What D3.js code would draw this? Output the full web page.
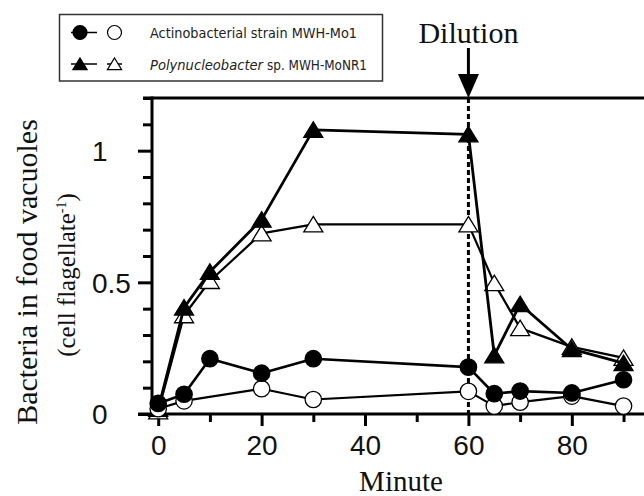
<!DOCTYPE html>
<html>
<head>
<meta charset="utf-8">
<script src="https://cdn.jsdelivr.net/npm/d3@7"></script>
<style>
  body { margin: 0; background: #fff; }
  svg { display: block; }
  .tick-label { font-family: "Liberation Sans", Arial, sans-serif; font-size: 28px; fill: #111; }
  .serif { font-family: "Liberation Serif", "Times New Roman", serif; fill: #111; }
  .legend-text { font-family: "DejaVu Sans", Verdana, sans-serif; font-size: 14.5px; fill: #222; }
</style>
</head>
<body>
<script>
// values
const minutes = [0, 5, 10, 20, 30, 60, 65, 70, 80, 90];
const minutesActinoOpen = [0, 5, 20, 30, 60, 65, 70, 80, 90];   // no open circle at 10 min
const actinoFilled = [0.04, 0.075, 0.21, 0.155, 0.21, 0.178, 0.077, 0.087, 0.08, 0.13];
const actinoOpen = [0.02, 0.05, 0.096, 0.055, 0.086, 0.03, 0.045, 0.068, 0.03];
const polyFilled = [0.02, 0.404, 0.54, 0.738, 1.079, 1.062, 0.223, 0.417, 0.246, 0.193];
const polyOpen = [0.01, 0.375, 0.505, 0.686, 0.72, 0.72, 0.497, 0.326, 0.255, 0.213];

const xMajor = [0, 20, 40, 60, 80];
const xMinor = [10, 30, 50, 70, 90];
const yMajor = [0, 0.5, 1];
const yMinor = [0.1, 0.2, 0.3, 0.4, 0.6, 0.7, 0.8, 0.9, 1.1, 1.2];
const dilutionAt = 60;

const legendRows = ['Actinobacterial strain MWH-Mo1', 'Polynucleobacter', 'sp. MWH-MoNR1'];

const W = 644, H = 496;
const svg = d3.select('body').append('svg')
    .attr('width', W)
    .attr('height', H);

const x = d3.scaleLinear().domain([-1.2, 93.96]).range([152, 644]);
const y = d3.scaleLinear().domain([0, 1.2]).range([414, 98]);

const toSeries = (xs, ys) => xs.map((m, i) => ({ m, v: ys[i] }));

const triPath = s => `M0,${-8 * s}L${9.5 * s},${7.5 * s}L${-9.5 * s},${7.5 * s}Z`;

// x axis (major + minor ticks)
const xAxisG = svg.append('g').attr('transform', `translate(0,${y(0)})`);
xAxisG.append('g')
    .call(d3.axisBottom(x).tickValues(xMajor).tickSize(12).tickSizeOuter(0).tickFormat(d3.format('d')))
    .call(g => g.select('.domain').remove())
    .call(g => g.selectAll('line').attr('stroke', '#000').attr('stroke-width', 3))
    .call(g => g.selectAll('text').attr('class', 'tick-label').attr('y', 21).attr('dy', '0.71em'));
xAxisG.append('g')
    .call(d3.axisBottom(x).tickValues(xMinor).tickSize(8).tickFormat(''))
    .call(g => g.select('.domain').remove())
    .call(g => g.selectAll('line').attr('stroke', '#000').attr('stroke-width', 3));

svg.append('line')
    .attr('x1', 138).attr('x2', W)
    .attr('y1', y(0)).attr('y2', y(0))
    .attr('stroke', '#000').attr('stroke-width', 3);

// y axis
const yAxisG = svg.append('g').attr('transform', `translate(${x.range()[0]},0)`);
yAxisG.append('g')
    .call(d3.axisLeft(y).tickValues(yMajor).tickSize(14).tickFormat(d => String(d)))
    .call(g => g.select('.domain').remove())
    .call(g => g.selectAll('line').attr('stroke', '#000').attr('stroke-width', 3))
    .call(g => g.selectAll('text').attr('class', 'tick-label')
        .attr('text-anchor', 'start').attr('x', 92 - 152).attr('dy', '0.35em'));
yAxisG.append('g')
    .call(d3.axisLeft(y).tickValues(yMinor).tickSize(9).tickFormat(''))
    .call(g => g.select('.domain').remove())
    .call(g => g.selectAll('line').attr('stroke', '#000').attr('stroke-width', 3));

svg.append('line')
    .attr('x1', 152).attr('x2', 152)
    .attr('y1', y(1.2) - 1.5).attr('y2', y(0) + 1.5)
    .attr('stroke', '#000').attr('stroke-width', 3);

// top frame line
svg.append('line')
    .attr('x1', 143).attr('x2', W)
    .attr('y1', y(1.2)).attr('y2', y(1.2))
    .attr('stroke', '#000').attr('stroke-width', 3);

// dilution marker
svg.append('line')
    .attr('x1', x(dilutionAt)).attr('x2', x(dilutionAt))
    .attr('y1', y(1.2)).attr('y2', y(0))
    .attr('stroke', '#000').attr('stroke-width', 3)
    .attr('stroke-dasharray', '5,3');

svg.append('line')
    .attr('x1', x(dilutionAt)).attr('x2', x(dilutionAt))
    .attr('y1', 48).attr('y2', 76)
    .attr('stroke', '#000').attr('stroke-width', 3);
svg.append('path')
    .attr('d', `M${x(dilutionAt) - 10.5},74L${x(dilutionAt) + 10.5},74L${x(dilutionAt)},${y(1.2)}Z`)
    .attr('fill', '#000');
svg.append('text')
    .attr('class', 'serif')
    .attr('x', x(dilutionAt))
    .attr('y', 43)
    .attr('text-anchor', 'middle')
    .style('font-size', '30px')
    .text('Dilution');

// series
const line = d3.line().x(d => x(d.m)).y(d => y(d.v));

function drawSeries(data, shape, filled, lw) {
    svg.append('path')
        .datum(data)
        .attr('d', line)
        .attr('fill', 'none')
        .attr('stroke', '#000')
        .attr('stroke-width', lw)
        .attr('stroke-linejoin', 'round');

    const marks = svg.append('g').selectAll('.mark')
        .data(data)
        .join(shape === 'circle' ? 'circle' : 'path')
        .attr('fill', filled ? '#000' : '#fff')
        .attr('stroke', '#000')
        .attr('stroke-width', 1.3);

    if (shape === 'circle') {
        marks.attr('cx', d => x(d.m)).attr('cy', d => y(d.v)).attr('r', 8.2);
    } else {
        marks.attr('d', triPath(1)).attr('transform', d => `translate(${x(d.m)},${y(d.v)})`);
    }
}

drawSeries(toSeries(minutes, polyOpen), 'triangle', false, 2.2);
drawSeries(toSeries(minutes, polyFilled), 'triangle', true, 2.8);
drawSeries(toSeries(minutesActinoOpen, actinoOpen), 'circle', false, 2.2);
drawSeries(toSeries(minutes, actinoFilled), 'circle', true, 2.6);

// axis titles
svg.append('text')
    .attr('class', 'serif')
    .attr('x', 401)
    .attr('y', 491)
    .attr('text-anchor', 'middle')
    .style('font-size', '29px')
    .text('Minute');

svg.append('text')
    .attr('class', 'serif')
    .attr('transform', 'translate(37,272) rotate(-90)')
    .attr('text-anchor', 'middle')
    .style('font-size', '30px')
    .text('Bacteria in food vacuoles');

const sub = svg.append('text')
    .attr('class', 'serif')
    .attr('transform', 'translate(75,275) rotate(-90)')
    .attr('text-anchor', 'middle')
    .style('font-size', '25px');
sub.append('tspan').text('(cell flagellate');
sub.append('tspan').attr('dy', -9).style('font-size', '14px').text('-1');
sub.append('tspan').attr('dy', 9).text(')');

// legend
const legend = svg.append('g');
legend.append('rect')
    .attr('x', 59.5).attr('y', 14.5)
    .attr('width', 323).attr('height', 66.5)
    .attr('fill', '#fff')
    .attr('stroke', '#333')
    .attr('stroke-width', 1.5);

const legendY = [32.5, 64];
legendY.forEach((ly, i) => {
    [[71, 97, 80, true], [107, 122, 114.5, false]].forEach(([a, b, cx, filled]) => {
        legend.append('line')
            .attr('x1', a).attr('x2', b).attr('y1', ly).attr('y2', ly)
            .attr('stroke', '#000').attr('stroke-width', 1.5);
        if (i === 0) {
            legend.append('circle')
                .attr('cx', cx).attr('cy', ly).attr('r', 7)
                .attr('fill', filled ? '#000' : '#fff')
                .attr('stroke', '#000').attr('stroke-width', 1.2);
        } else {
            legend.append('path')
                .attr('d', triPath(0.75))
                .attr('transform', `translate(${cx},${ly})`)
                .attr('fill', filled ? '#000' : '#fff')
                .attr('stroke', '#000').attr('stroke-width', 1.2);
        }
    });
});

legend.append('text')
    .attr('class', 'legend-text')
    .attr('x', 150).attr('y', 37.5)
    .attr('textLength', 207)
    .attr('lengthAdjust', 'spacingAndGlyphs')
    .text(legendRows[0]);

legend.append('text')
    .attr('class', 'legend-text')
    .attr('x', 150).attr('y', 69.5)
    .attr('textLength', 113)
    .attr('lengthAdjust', 'spacingAndGlyphs')
    .style('font-style', 'italic')
    .text(legendRows[1]);

legend.append('text')
    .attr('class', 'legend-text')
    .attr('x', 267).attr('y', 69.5)
    .attr('textLength', 100)
    .attr('lengthAdjust', 'spacingAndGlyphs')
    .text(legendRows[2]);
</script>
</body>
</html>
